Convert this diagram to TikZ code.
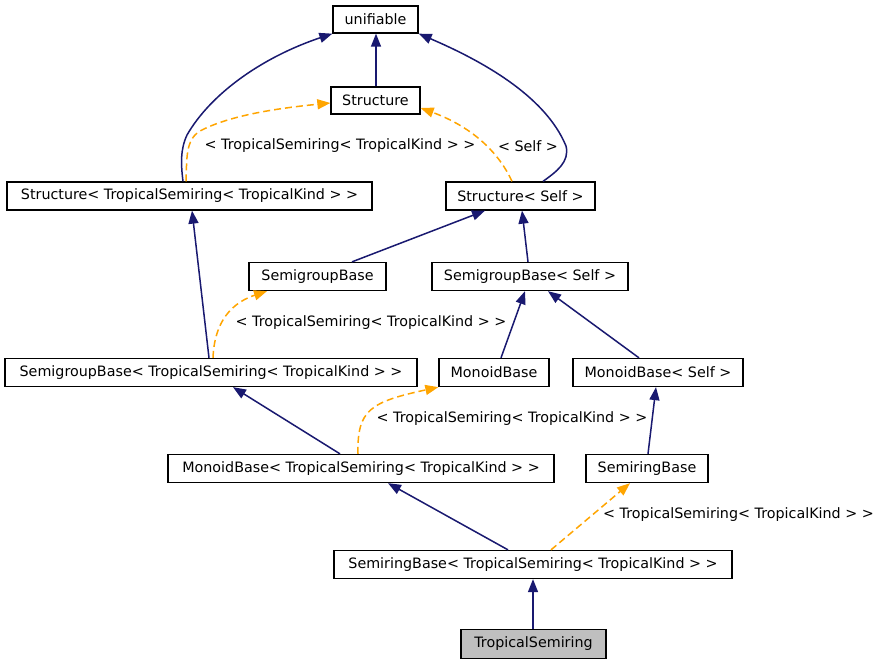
\documentclass[tikz,border=0pt]{standalone}
\usepackage{fontspec}
\setmainfont{DejaVu Sans}
\usetikzlibrary{arrows.meta}
\definecolor{navyedge}{RGB}{25,25,112}
\definecolor{tmplorange}{RGB}{255,165,0}
\definecolor{leafgray}{RGB}{191,191,191}
\begin{document}
\begin{tikzpicture}[x=1pt,y=-1pt,
  box/.style={draw=black,line width=1.3pt,fill=white,inner sep=0pt,
    minimum height=28pt,font=\fontsize{14.3}{17}\selectfont},
  inh/.style={draw=navyedge,line width=1.5pt,
    -{Triangle[length=13pt,width=10pt,fill=navyedge]}},
  tmpl/.style={draw=tmplorange,line width=1.5pt,dash pattern=on 7pt off 4pt,
    -{Triangle[length=13pt,width=10pt,fill=tmplorange]}},
  lbl/.style={inner sep=0pt,font=\fontsize{14.3}{17}\selectfont}]
\useasboundingbox (0,0) rectangle (881,664);
\fill[white] (0,0) rectangle (881,664);

\node[box,minimum width=85pt,minimum height=27pt] (uni) at (375.5,19.5) {unifiable};
\node[box,minimum width=89pt,minimum height=27pt] (str) at (375.5,100.5) {Structure};
\node[box,minimum width=365pt] (sts) at (189.5,196) {Structure< TropicalSemiring< TropicalKind > >};
\node[box,minimum width=149pt] (ss) at (520.5,196) {Structure< Self >};
\node[box,minimum width=137pt] (sg) at (317.5,276.5) {SemigroupBase};
\node[box,minimum width=196pt] (sgs) at (530,276.5) {SemigroupBase< Self >};
\node[box,minimum width=412pt] (sgt) at (211,372.5) {SemigroupBase< TropicalSemiring< TropicalKind > >};
\node[box,minimum width=110pt] (mb) at (494,372.5) {MonoidBase};
\node[box,minimum width=170pt] (mbs) at (658,372.5) {MonoidBase< Self >};
\node[box,minimum width=386pt] (mbt) at (361,468.5) {MonoidBase< TropicalSemiring< TropicalKind > >};
\node[box,minimum width=122pt] (sr) at (647,468.5) {SemiringBase};
\node[box,minimum width=398pt] (srt) at (533,564.5) {SemiringBase< TropicalSemiring< TropicalKind > >};
\node[box,minimum width=145pt,minimum height=29pt,fill=leafgray] (ts) at (533.5,644) {TropicalSemiring};

% inheritance edges
\draw[inh] ([xshift=0.5pt]str.north) -- ([xshift=0.5pt]uni.south);
\draw[inh] ([xshift=-6.5pt]sts.north) .. controls (181,165) and (180,150) .. (187,135)
  .. controls (210,95) and (260,58) .. (uni.south west);
\draw[inh] ([xshift=22.5pt]ss.north) .. controls (556,172) and (570,162) .. (566,146)
  .. controls (545,95) and (480,60) .. (uni.south east);
\draw[inh] ([xshift=34.5pt]sg.north) -- ([xshift=-35.5pt]ss.south);
\draw[inh] ([xshift=-2pt]sgs.north) -- ([xshift=1.5pt]ss.south);
\draw[inh] ([xshift=-2pt]sgt.north) -- ([xshift=2.5pt]sts.south);
\draw[inh] ([xshift=7pt]mb.north) -- ([xshift=-5pt]sgs.south);
\draw[inh] ([xshift=-19pt]mbs.north) -- ([xshift=18pt]sgs.south);
\draw[inh] ([xshift=-21pt]mbt.north) -- ([xshift=22pt]sgt.south);
\draw[inh] ([xshift=1pt]sr.north) -- ([xshift=-2pt]mbs.south);
\draw[inh] ([xshift=-25pt]srt.north) -- ([xshift=27pt]mbt.south);
\draw[inh] ([xshift=-0.5pt]ts.north) -- (srt.south);

% template edges
\draw[tmpl] ([xshift=-3.5pt]sts.north) .. controls (187,160) and (185,140) .. (200,131)
  .. controls (230,115) and (280,108) .. ([yshift=-2.5pt]str.west);
\draw[tmpl] ([xshift=-8.5pt]ss.north) .. controls (500,155) and (475,128) .. ([yshift=-7.5pt]str.east);
\draw[tmpl] ([xshift=2pt]sgt.north) .. controls (214,330) and (225,305) .. ([xshift=-50.5pt]sg.south);
\draw[tmpl] ([xshift=-3pt]mbt.north) .. controls (357,410) and (370,402) .. (mb.south west);
\draw[tmpl] ([xshift=18pt]srt.north) -- ([xshift=-17pt]sr.south);

% labels
\node[lbl] (l1) at (340,146) {< TropicalSemiring< TropicalKind > >};
\node[lbl] (l2) at (528,146) {< Self >};
\node[lbl] (l3) at (371,323) {< TropicalSemiring< TropicalKind > >};
\node[lbl] (l4) at (512,419) {< TropicalSemiring< TropicalKind > >};
\node[lbl] (l5) at (738.5,515) {< TropicalSemiring< TropicalKind > >};
\end{tikzpicture}
\end{document}
